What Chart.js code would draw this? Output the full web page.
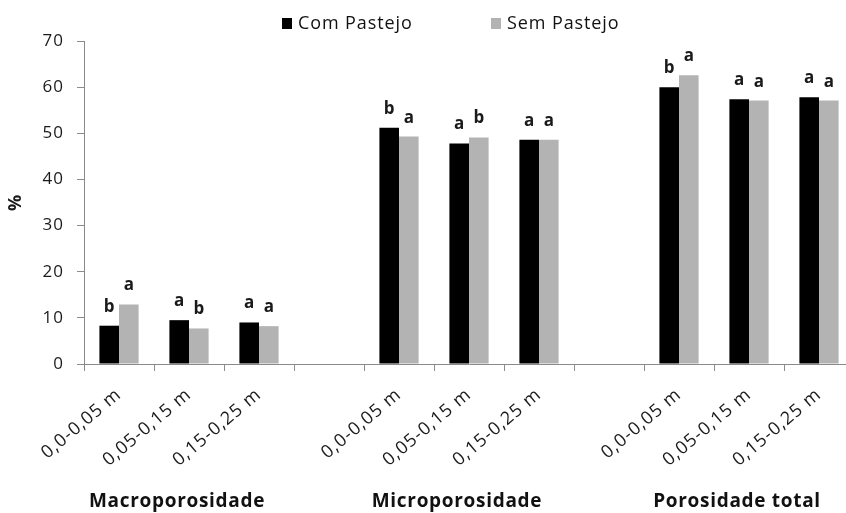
<!DOCTYPE html>
<html>
<head>
<meta charset="utf-8">
<script src="https://cdn.jsdelivr.net/npm/chart.js@4.4.1/dist/chart.umd.min.js"></script>
<style>
html,body{margin:0;padding:0;overflow:hidden;background:#fff;width:846px;height:513px;}
#wrap{width:870px;height:513px;position:relative;}
</style>
</head>
<body>
<div id="wrap"><canvas id="c"></canvas></div>
<script>
// ---- data ----
const categories = ['0,0-0,05 m','0,05-0,15 m','0,15-0,25 m','', '0,0-0,05 m','0,05-0,15 m','0,15-0,25 m','', '0,0-0,05 m','0,05-0,15 m','0,15-0,25 m'];
const groupNames = ['Macroporosidade','Microporosidade','Porosidade total'];
const groupMiddleIndex = [1, 5, 9];
const seriesNames = ['Com Pastejo','Sem Pastejo'];
const comPastejo = [8.3, 9.5, 9.0, null, 51.2, 47.8, 48.6, null, 60.0, 57.4, 57.8];
const semPastejo = [12.9, 7.7, 8.2, null, 49.3, 49.1, 48.6, null, 62.6, 57.1, 57.1];
const lettersCom = ['b','a','a','', 'b','a','a','', 'b','a','a'];
const lettersSem = ['a','b','a','', 'a','b','a','', 'a','a','a'];
const yTicks = [0,10,20,30,40,50,60,70];
const yTitle = '%';

const FONT = "'Open Sans', sans-serif";
Chart.defaults.font.family = FONT;
Chart.defaults.color = '#1a1a1a';

const spacingPlugin = {
  id: 'spacing',
  beforeDraw(chart) { chart.ctx.letterSpacing = '1px'; },
  afterDraw(chart) { chart.ctx.letterSpacing = '0px'; }
};

const letterPlugin = {
  id: 'letters',
  afterDatasetsDraw(chart) {
    const ctx = chart.ctx;
    const sets = [lettersCom, lettersSem];
    ctx.save();
    ctx.letterSpacing = '0px';
    ctx.font = "bold 17px " + FONT;
    ctx.fillStyle = '#1a1a1a';
    ctx.textAlign = 'center';
    ctx.textBaseline = 'alphabetic';
    sets.forEach((arr, i) => {
      const meta = chart.getDatasetMeta(i);
      meta.data.forEach((bar, j) => {
        if (!arr[j]) return;
        ctx.fillText(arr[j], bar.x, bar.y - 14);
      });
    });
    ctx.restore();
  }
};

const extrasPlugin = {
  id: 'extras',
  afterDraw(chart) {
    const ctx = chart.ctx;
    const xs = chart.scales.x;
    ctx.save();
    // group labels
    ctx.letterSpacing = '0.7px';
    ctx.font = "bold 19px " + FONT;
    ctx.fillStyle = '#111';
    ctx.textAlign = 'center';
    ctx.textBaseline = 'alphabetic';
    groupNames.forEach((g, i) => {
      const cx = xs.getPixelForValue(groupMiddleIndex[i]) - 12;
      ctx.fillText(g, cx, 507);
    });
    // legend
    ctx.letterSpacing = '0.9px';
    ctx.font = "18px " + FONT;
    ctx.textAlign = 'left';
    ctx.textBaseline = 'middle';
    const legendX = [282, 491];
    chart.data.datasets.forEach((ds, i) => {
      ctx.fillStyle = ds.backgroundColor;
      ctx.fillRect(legendX[i], 18, 10, 11);
      ctx.fillStyle = '#111';
      ctx.fillText(ds.label, legendX[i] + 16, 24);
    });
    ctx.restore();
  }
};

new Chart(document.getElementById('c'), {
  type: 'bar',
  data: {
    labels: categories,
    datasets: [
      { label: seriesNames[0], data: comPastejo, backgroundColor: '#000000', borderWidth: 0 },
      { label: seriesNames[1], data: semPastejo, backgroundColor: '#b3b3b3', borderWidth: 0 }
    ]
  },
  options: {
    responsive: true,
    maintainAspectRatio: false,
    animation: false,
    layout: { padding: { top: 41, right: 16, bottom: 0, left: 0 } },
    datasets: { bar: { barPercentage: 1.0, categoryPercentage: 0.56 } },
    plugins: { legend: { display: false }, tooltip: { enabled: false } },
    scales: {
      x: {
        grid: { display: true, drawOnChartArea: false, drawTicks: true, tickLength: 7, color: '#8a8a8a', offset: true },
        border: { display: true, color: '#8a8a8a', width: 1 },
        ticks: { maxRotation: 40, minRotation: 40, autoSkip: false, padding: 13, font: { size: 18 }, color: '#1a1a1a' },
        afterFit(s) { s.height = 149; s.paddingLeft = 0; s.paddingRight = 0; }
      },
      y: {
        min: 0, max: 70,
        afterBuildTicks(s) { s.ticks = yTicks.map(v => ({ value: v })); },
        grid: { display: true, drawOnChartArea: false, drawTicks: true, tickLength: 7, color: '#8a8a8a' },
        border: { display: true, color: '#8a8a8a', width: 1 },
        ticks: { padding: 13, font: { size: 17 }, color: '#1a1a1a' },
        title: { display: true, text: yTitle, font: { size: 18, weight: 'bold' }, padding: { top: 5, bottom: 0 }, color: '#1a1a1a' },
        afterFit(s) { s.width = 84; s.paddingTop = 0; s.paddingBottom = 0; }
      }
    }
  },
  plugins: [spacingPlugin, letterPlugin, extrasPlugin]
});
</script>
</body>
</html>
